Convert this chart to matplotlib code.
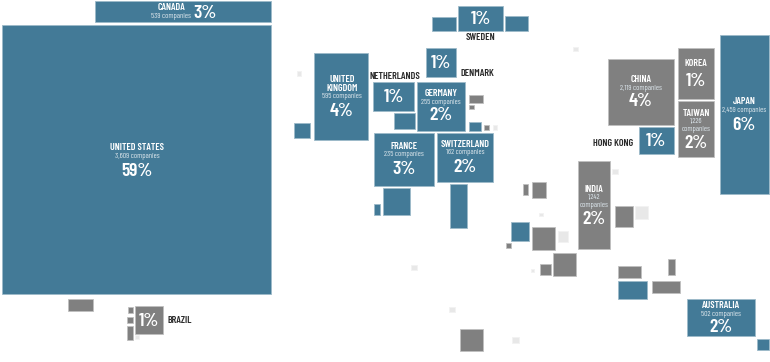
import numpy as np
import matplotlib
matplotlib.use("Agg")
import matplotlib.pyplot as plt

plt.rcParams["font.family"] = ["Barlow Condensed", "Liberation Sans", "DejaVu Sans"]

BLUE = "#437a97"
GRAY = "#808080"
LIGHT = "#e8e8e8"

# cartogram boxes as left, right, top, bottom in picture units
blue_left = [2, 95, 458, 432, 505, 426, 314, 373, 417, 394, 469, 294, 374, 437, 383, 374, 450, 639, 720, 687, 757, 511, 618]
blue_right = [271, 271, 503, 456, 528, 456, 368, 414, 465, 414.5, 481, 310, 434, 493, 410, 380, 467, 674, 768.5, 754.5, 769, 529, 647]
blue_top = [24.5, 1, 6, 17, 16, 48, 53, 82, 82, 113, 122, 122.5, 133, 133, 188, 203.5, 184, 127, 35, 299, 339, 222, 281]
blue_bottom = [294, 22, 31, 31, 31, 77, 139.5, 111, 131, 129, 131, 138, 186, 182, 215, 215, 228, 154, 194, 336, 350, 241, 299]

gray_left = [608, 678, 678, 578, 523, 532, 615, 532, 506, 553, 540, 618, 668, 652, 469, 469, 484, 135, 128, 127, 127, 68, 460]
gray_right = [674, 714, 714, 610, 528, 546, 633, 555, 511, 576, 551, 641, 675, 680, 483, 473.5, 489, 163, 133, 133, 133, 93, 483]
gray_top = [59, 48, 101, 161, 184, 182, 206, 227, 243, 253, 264, 266, 259, 281, 95, 105, 125, 306, 307, 317, 326, 299, 329]
gray_bottom = [125, 99, 157, 249, 195, 198, 227, 250, 248, 276, 275, 278, 275, 293, 103, 109, 130, 334, 313, 323, 340, 311, 351]

light_left = [297, 493, 573, 612, 635, 558, 539, 531, 411, 449, 512, 135]
light_right = [301, 497, 578, 617.5, 648, 568, 543, 534, 417, 455, 519, 139]
light_top = [71, 125, 47, 169, 206, 231, 213, 269, 265, 307, 337, 335]
light_bottom = [76, 130, 51, 174, 219, 242, 216, 272, 270, 312, 343, 339]

# name, x, y for each text line
names = ["CANADA", "UNITED STATES", "UNITED\nKINGDOM", "GERMANY", "FRANCE", "SWITZERLAND",
         "CHINA", "KOREA", "TAIWAN", "JAPAN", "INDIA", "AUSTRALIA"]
name_x = [171, 137, 342, 441, 404, 465, 641, 696, 696, 744, 594, 721]
name_y = [8, 147, 84, 93, 146.5, 144.5, 80, 64, 113, 102, 189, 305]

counts = ["539 companies", "3,609 companies", "595 companies", "255 companies", "235 companies",
          "162 companies", "2,119 companies", "1,226\ncompanies", "2,459 companies",
          "1,242\ncompanies", "502 companies"]
count_x = [171, 137, 342, 441, 404, 465, 641, 696, 744, 594, 721]
count_y = [16.5, 156, 97, 102, 155, 153, 88.5, 125.5, 111, 201.5, 314]

shares = ["3%", "59%", "4%", "2%", "3%", "2%", "4%", "1%", "2%", "6%", "2%", "2%", "1%", "1%", "1%", "1%", "1%"]
share_x = [205, 137, 342, 441, 404, 465, 641, 696, 696, 744, 594, 721, 481, 441, 394, 656, 149]
share_y = [13, 171, 112, 116, 170, 167, 102, 81, 143, 125, 219, 328, 19, 63, 97, 141, 321]

outside = ["SWEDEN", "NETHERLANDS", "DENMARK", "HONG KONG", "BRAZIL"]
outside_x = [480, 395, 477, 613, 180]
outside_y = [38, 76.5, 73.5, 143, 320.5]


def draw_boxes(ax, left, right, top, bottom, color, edge):
    left, right = np.array(left), np.array(right)
    top, bottom = np.array(top), np.array(bottom)
    ax.bar(left, bottom - top, width=right - left, bottom=top, align="edge",
           color=color, edgecolor=edge, linewidth=0.6)


def main():
    fig = plt.figure(figsize=(7.7, 3.62), dpi=100)
    ax = fig.add_axes([0, 0, 1, 1])
    ax.set_xlim(0, 770)
    ax.set_ylim(362, 0)
    ax.axis("off")

    draw_boxes(ax, blue_left, blue_right, blue_top, blue_bottom, BLUE, "#9dbac9")
    draw_boxes(ax, gray_left, gray_right, gray_top, gray_bottom, GRAY, "#c0c0c0")
    draw_boxes(ax, light_left, light_right, light_top, light_bottom, LIGHT, "#f2f2f2")

    for s, x, y in zip(names, name_x, name_y):
        ax.text(x, y, s, color="white", fontsize=7.2, fontweight=600, ha="center", va="center", linespacing=1.1)
    for s, x, y in zip(counts, count_x, count_y):
        ax.text(x, y, s, color="#dce6ec", fontsize=5.6, ha="center", va="center", linespacing=1.1)
    for s, x, y in zip(shares, share_x, share_y):
        ax.text(x, y, s, color="white", fontsize=14, fontweight=600, ha="center", va="center")
    for s, x, y in zip(outside, outside_x, outside_y):
        ax.text(x, y, s, color="#2b2b2b", fontsize=7.3, fontweight=600, ha="center", va="center")

    fig.savefig("out.png", dpi=100, facecolor="white")


if __name__ == "__main__":
    main()
